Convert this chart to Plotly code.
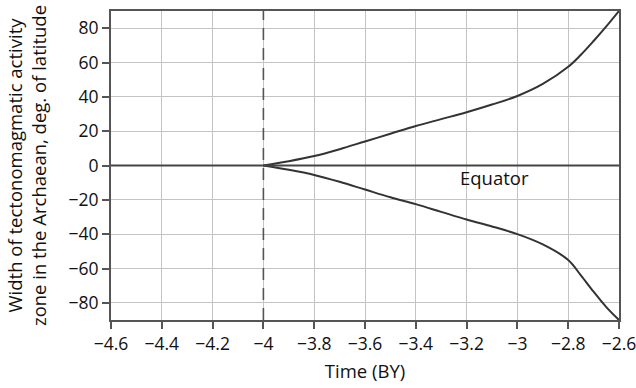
import plotly.graph_objects as go

# Time in billions of years (negative = ago)
time_by = [-4.0, -3.9, -3.8, -3.7, -3.6, -3.5, -3.4, -3.3, -3.2, -3.1, -3.0,
           -2.9, -2.8, -2.75, -2.7, -2.65, -2.6]
# Northern boundary of the tectonomagmatic activity zone (deg. latitude)
north_edge = [0, 2.5, 5.5, 9.5, 14, 18.5, 23, 27, 31, 35.5, 40.5,
              47.5, 57.5, 64.5, 72.5, 81, 90]
# Southern boundary of the zone (deg. latitude)
south_edge = [0, -2.5, -5.5, -9.5, -14, -18.5, -22.5, -27, -31.5, -35.5, -40,
              -46, -55, -64, -73.5, -82.5, -90]

x_ticks = [-4.6, -4.4, -4.2, -4.0, -3.8, -3.6, -3.4, -3.2, -3.0, -2.8, -2.6]
x_tick_text = ["\u22124.6", "\u22124.4", "\u22124.2", "\u22124", "\u22123.8", "\u22123.6",
               "\u22123.4", "\u22123.2", "\u22123", "\u22122.8", "\u22122.6"]
y_ticks = [-80, -60, -40, -20, 0, 20, 40, 60, 80]
y_tick_text = ["\u221280", "\u221260", "\u221240", "\u221220", "0", "20", "40", "60", "80"]

onset_time = -4.0
equator_label = "Equator"

font_family = "Open Sans, Lato, sans-serif"
line_color = "#333333"
axis_color = "#555555"

fig = go.Figure()

fig.add_trace(go.Scatter(x=time_by, y=north_edge, mode="lines",
                         line=dict(color=line_color, width=2, shape="spline", smoothing=1.0),
                         showlegend=False, hoverinfo="skip"))
fig.add_trace(go.Scatter(x=time_by, y=south_edge, mode="lines",
                         line=dict(color=line_color, width=2, shape="spline", smoothing=1.0),
                         showlegend=False, hoverinfo="skip"))

# Equator line
fig.add_shape(type="line", xref="paper", yref="y", x0=0, x1=1, y0=0, y1=0,
              line=dict(color="#444444", width=2))
# Onset of activity
fig.add_shape(type="line", xref="x", yref="paper", x0=onset_time, x1=onset_time,
              y0=0, y1=1, line=dict(color="#555555", width=1.6, dash="12px,8px"))

fig.add_annotation(x=-3.09, y=-7, text=equator_label, showarrow=False,
                   font=dict(family=font_family, size=18.5, color="#111111"))

fig.update_layout(
    width=636, height=388,
    margin=dict(l=111, r=17, t=11, b=68, autoexpand=False),
    paper_bgcolor="white", plot_bgcolor="white",
    font=dict(family=font_family, size=17, color="#111111"),
)

fig.update_xaxes(
    range=[-4.6, -2.6], tickvals=x_ticks, ticktext=x_tick_text,
    showgrid=True, gridcolor="#c4c4c4", gridwidth=1.2,
    showline=True, linecolor=axis_color, linewidth=2, mirror=True,
    ticks="outside", ticklen=7, tickcolor=axis_color, tickwidth=1.5,
    zeroline=False, tickfont=dict(size=17.5), ticklabeloverflow="allow",
    automargin=False,
    title=dict(text="Time (BY)", font=dict(size=18.5), standoff=11),
)
fig.update_yaxes(
    range=[-90, 90], tickvals=y_ticks, ticktext=y_tick_text,
    showgrid=True, gridcolor="#c4c4c4", gridwidth=1.2,
    showline=True, linecolor=axis_color, linewidth=2, mirror=True,
    ticks="outside", ticklen=7, tickcolor=axis_color, tickwidth=1.5,
    zeroline=False, tickfont=dict(size=17.5), automargin=False,
    title=dict(text="Width of tectonomagmatic activity<br>zone in the Archaean, deg. of latitude",
               font=dict(size=18.5), standoff=17),
)

fig.write_html("out.html")
